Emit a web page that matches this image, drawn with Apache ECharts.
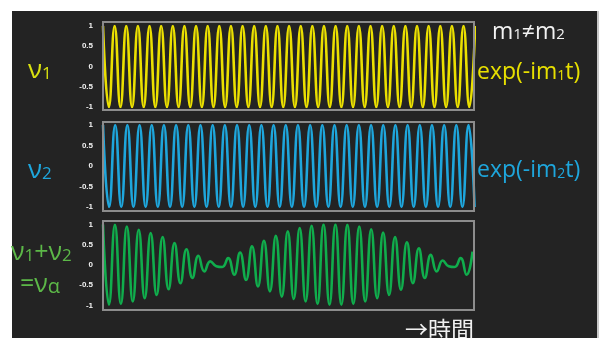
<!DOCTYPE html>
<html>
<head>
<meta charset="utf-8">
<script src="https://cdn.jsdelivr.net/npm/echarts@6/dist/echarts.min.js"></script>
<style>
html,body{margin:0;padding:0;background:#ffffff;}
#chart{width:603px;height:338px;}
</style>
</head>
<body>
<div id="chart"></div>
<script>
// Extremes (peak/trough values) of each wave, one per half-cycle
var wave1 = [1,-1,1,-1,1,-1,1,-1,1,-1,1,-1,1,-1,1,-1,1,-1,1,-1,1,-1,1,-1,1,-1,1,-1,1,-1,1,-1,
             1,-1,1,-1,1,-1,1,-1,1,-1,1,-1,1,-1,1,-1,1,-1,1,-1,1,-1,1,-1,1,-1,1,-1,1,-1,1,-1,1];
var wave2 = [1,-1,1,-1,1,-1,1,-1,1,-1,1,-1,1,-1,1,-1,1,-1,1,-1,1,-1,1,-1,1,-1,1,-1,1,-1,1,-1,
             1,-1,1,-1,1,-1,1,-1,1,-1,1,-1,1,-1,1,-1,1,-1,1,-1,1,-1,1,-1,1,-1,1,-1,1,-1];
var waveSum = [1.0,-0.98,0.99,-0.96,0.95,-0.90,0.87,-0.82,0.79,-0.74,0.69,-0.60,0.54,-0.45,0.39,-0.32,
               0.23,-0.16,0.09,-0.03,-0.05,0.17,-0.24,0.31,-0.37,0.46,-0.53,0.60,-0.65,0.72,-0.78,0.83,
               -0.84,0.91,-0.90,0.97,-0.96,1.0,-0.98,1.0,-0.98,0.99,-0.96,0.95,-0.90,0.88,-0.82,0.80,
               -0.74,0.69,-0.61,0.56,-0.45,0.41,-0.32,0.25,-0.16,0.11,-0.03,-0.05,0.17,-0.24,0.33];
// Visible span of each panel, in half-cycles
var span1 = 63.8, span2 = 60.9, span3 = 62.25;
var yTicks = [-1, -0.5, 0, 0.5, 1];

function pairs(arr){ return arr.map(function(v,i){ return [i, v]; }); }

var chart = echarts.init(document.getElementById('chart'), null, {renderer:'canvas'});
var tops = [26, 125, 224.5];
var heights = [81, 82, 81];
var spans = [span1, span2, span3];
var colors = ['#ebe000', '#1ea6dc', '#10ad4c'];
var datas = [wave1, wave2, waveSum];

var grids = [], xAxes = [], yAxes = [], series = [];
for (var k = 0; k < 3; k++) {
  grids.push({left:103, width:371, top:tops[k], height:heights[k], containLabel:false});
  xAxes.push({type:'value', gridIndex:k, min:0, max:spans[k], show:false});
  yAxes.push({type:'value', gridIndex:k, min:yTicks[0], max:yTicks[yTicks.length-1], interval:0.5,
    axisLine:{show:false}, axisTick:{show:false}, splitLine:{show:false},
    axisLabel:{color:'#f2f2f2', fontSize:8, fontWeight:'bold', margin:10, fontFamily:'Liberation Sans, Arial, sans-serif',
      formatter:function(v){ return String(v); }}});
  series.push({type:'line', xAxisIndex:k, yAxisIndex:k, data:pairs(datas[k]), smooth:true,
    showSymbol:false, clip:true, lineStyle:{color:colors[k], width:2.6}, silent:true, animation:false});
}

var frameStyle = {fill:'none', stroke:'#8c8c8c', lineWidth:2};
var bigFont = '"Open Sans", Lato, "Noto Sans", sans-serif';
function richLabel(x, y, parts, color, size, subScale, subPad){
  subScale = subScale || 0.62; subPad = (subPad == null) ? 0.35 : subPad;
  return {type:'text', x:x, y:y, z:10, style:{
    text: parts, fill: color, fontFamily: bigFont, fontSize: size, verticalAlign:'middle', align:'left',
    rich:{
      n:{fill:color, fontSize:size, fontFamily:bigFont},
      s:{fill:color, fontSize:Math.round(size*subScale), fontFamily:bigFont, padding:[size*subPad,0,0,0]}
    }}};
}

chart.setOption({
  animation:false,
  backgroundColor:'#ffffff',
  grid: grids, xAxis: xAxes, yAxis: yAxes, series: series,
  graphic:[
    {type:'rect', z:-10, shape:{x:12, y:11, width:585, height:327}, style:{fill:'#232323'}},
    {type:'rect', z:-10, shape:{x:597, y:11, width:2, height:327}, style:{fill:'#c8c8c8'}},
    {type:'rect', z:5, shape:{x:103, y:22, width:371, height:88}, style:frameStyle},
    {type:'rect', z:5, shape:{x:103, y:122, width:371, height:89}, style:frameStyle},
    {type:'rect', z:5, shape:{x:103, y:221, width:371, height:89}, style:frameStyle},
    richLabel(28, 71, '{n|ν}{s|1}', '#d8e010', 26, 0.66, 0.22),
    richLabel(28, 171, '{n|ν}{s|2}', '#1ea6dc', 26, 0.66, 0.22),
    richLabel(11, 253, '{n|ν}{s|1}{n|+ν}{s|2}', '#5cb848', 25, 0.66, 0.22),
    richLabel(20, 285, '{n|=ν}{s|α}', '#5cb848', 25, 0.8, 0.15),
    richLabel(492, 32, '{n|m}{s|1}{n|≠m}{s|2}', '#f2f2f2', 23, 0.66, 0.28),
    richLabel(477, 72, '{n|exp(-im}{s|1}{n|t)}', '#e8e000', 23, 0.62, 0.35),
    richLabel(477, 170, '{n|exp(-im}{s|2}{n|t)}', '#1ea6dc', 23, 0.62, 0.35),
    {type:'text', x:405, y:329, z:10, style:{text:'→時間', fill:'#f0f0f0', fontSize:23,
      fontFamily:'"Noto Sans CJK JP", sans-serif', verticalAlign:'middle', align:'left'}}
  ]
});
</script>
</body>
</html>
